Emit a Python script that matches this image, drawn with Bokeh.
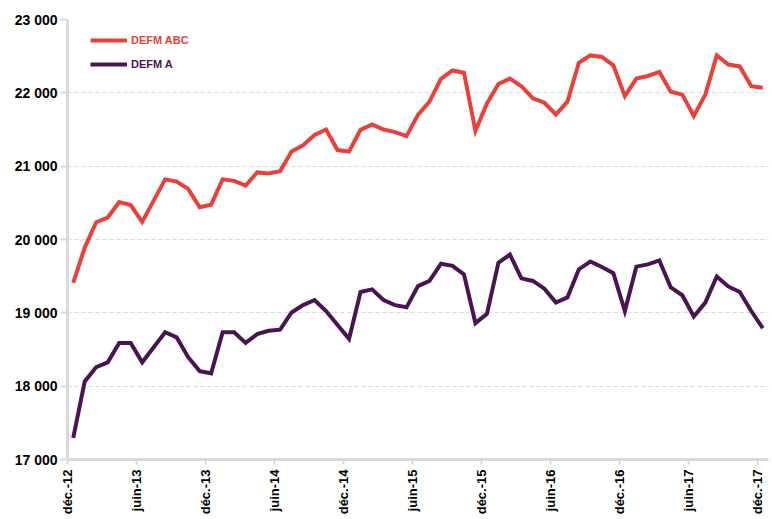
from bokeh.plotting import figure
from bokeh.models import FixedTicker, Legend, LegendItem, Range1d
from bokeh.embed import file_html
from bokeh.resources import INLINE
import math

# ---- data ----
tick_labels = ["déc.-12", "juin-13", "déc.-13", "juin-14", "déc.-14", "juin-15",
               "déc.-15", "juin-16", "déc.-16", "juin-17", "déc.-17"]
defm_abc = [19410, 19890, 20235, 20300, 20510, 20470, 20240, 20530, 20820, 20790,
            20690, 20440, 20475, 20820, 20800, 20735, 20915, 20900, 20930, 21200,
            21285, 21425, 21500, 21220, 21200, 21495, 21570, 21500, 21465, 21410,
            21700, 21880, 22190, 22305, 22275, 21480, 21855, 22120, 22195, 22090,
            21925, 21865, 21705, 21880, 22410, 22510, 22490, 22375, 21955, 22195,
            22230, 22285, 22015, 21975, 21685, 21975, 22510, 22385, 22360, 22090,
            22070]
defm_a = [17295, 18065, 18260, 18325, 18590, 18590, 18325, 18530, 18735, 18665,
          18395, 18205, 18175, 18735, 18735, 18590, 18710, 18755, 18770, 19005,
          19105, 19175, 19025, 18835, 18645, 19285, 19320, 19175, 19105, 19075,
          19365, 19435, 19670, 19640, 19525, 18860, 18985, 19685, 19795, 19470,
          19435, 19330, 19140, 19210, 19595, 19700, 19625, 19540, 19025, 19630,
          19660, 19715, 19345, 19240, 18950, 19140, 19495, 19360, 19285, 19025,
          18790]
y_ticks = [17000, 18000, 19000, 20000, 21000, 22000, 23000]

RED = "#E8413A"
PURPLE = "#4A1452"
GRAY = "#D9D9D9"
FONT = "Liberation Sans"

n = len(defm_abc)
months = [i + 0.5 for i in range(n)]          # points centred between month ticks
x_ticks = [i * 6 for i in range(len(tick_labels))]

p = figure(width=770, height=517, output_backend="svg", toolbar_location=None,
           x_range=Range1d(0, n), y_range=Range1d(y_ticks[0], y_ticks[-1]),
           min_border_left=67, min_border_top=19, min_border_right=2,
           min_border_bottom=56)
p.outline_line_color = None
p.background_fill_color = "white"

r_abc = p.line(months, defm_abc, line_color=RED, line_width=4, line_join="miter")
r_a = p.line(months, defm_a, line_color=PURPLE, line_width=4, line_join="miter")

# axes
p.xaxis.ticker = FixedTicker(ticks=x_ticks)
p.xaxis.major_label_overrides = {t: l for t, l in zip(x_ticks, tick_labels)}
p.xaxis.major_label_orientation = math.pi / 2
p.xaxis.minor_tick_line_color = None
p.xaxis.major_tick_in = 0
p.xaxis.major_tick_out = 5
p.xaxis.major_label_standoff = 5

p.yaxis.ticker = FixedTicker(ticks=y_ticks)
p.yaxis.major_label_overrides = {t: f"{t:,}".replace(",", " ") for t in y_ticks}
p.yaxis.minor_tick_line_color = None
p.yaxis.major_tick_in = 0
p.yaxis.major_tick_out = 7
p.yaxis.major_label_standoff = 3

for ax in (p.xaxis, p.yaxis):
    ax.axis_line_color = GRAY
    ax.axis_line_width = 3
    ax.major_tick_line_color = GRAY
    ax.major_tick_line_width = 2
    ax.major_label_text_font = FONT
    ax.major_label_text_font_style = "bold"
    ax.major_label_text_color = "black"
p.yaxis.major_label_text_font_size = "14px"
p.xaxis.major_label_text_font_size = "13px"

p.xgrid.grid_line_color = None
p.ygrid.grid_line_color = GRAY
p.ygrid.grid_line_dash = "4 3"
p.ygrid.grid_line_width = 1

# legends (one per series so text can take the series colour)
def make_legend(label, renderer, color, loc):
    lg = Legend(items=[LegendItem(label=label, renderers=[renderer])],
                location=loc, padding=0, margin=0, spacing=0,
                glyph_width=37, glyph_height=20, label_height=20,
                label_standoff=4, border_line_color=None,
                background_fill_alpha=0,
                label_text_color=color, label_text_font=FONT,
                label_text_font_style="bold", label_text_font_size="11px")
    p.add_layout(lg, "center")

make_legend("DEFM ABC", r_abc, RED, (23, 409))
make_legend("DEFM A", r_a, PURPLE, (23, 385))

open("out.html", "w").write(file_html(p, INLINE))
